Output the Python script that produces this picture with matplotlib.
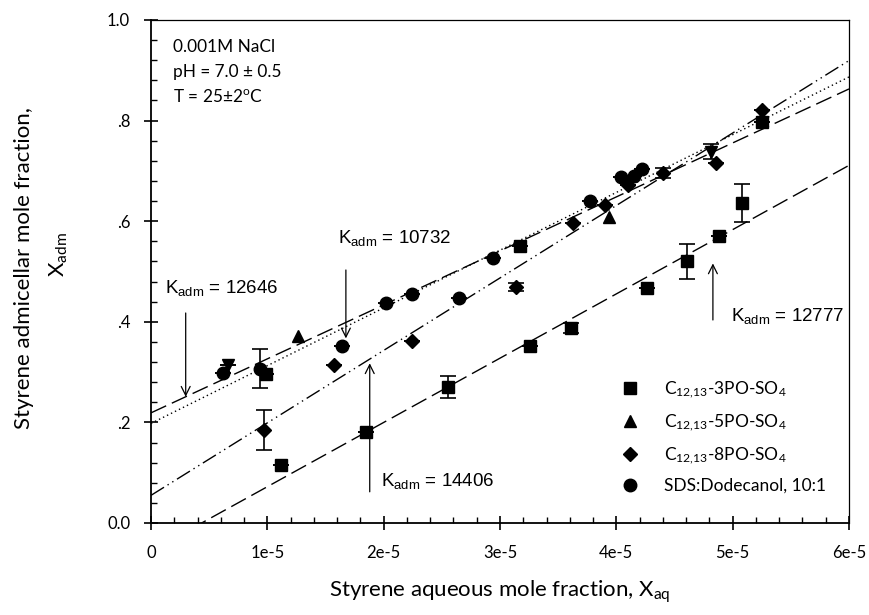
import numpy as np
import matplotlib
matplotlib.use("Agg")
import matplotlib.pyplot as plt

plt.rcParams['font.family'] = ['Lato', 'DejaVu Sans']
plt.rcParams['mathtext.default'] = 'regular'
plt.rcParams['font.size'] = 12

# data (x in units of 1e-5)
x_3po = [0.99, 1.12, 1.85, 2.55, 3.17, 3.26, 3.61, 4.26, 4.61, 4.88, 5.08, 5.25]
y_3po = [0.296, 0.115, 0.180, 0.270, 0.551, 0.351, 0.387, 0.468, 0.520, 0.571, 0.636, 0.798]
e_3po = [0, 0, 0, 0.022, 0, 0, 0.010, 0, 0.035, 0, 0.037, 0]

x_5po = [1.26, 3.94]
y_5po = [0.372, 0.608]

x_8po = [0.97, 1.57, 2.24, 3.14, 3.63, 3.90, 4.10, 4.40, 4.86, 5.25]
y_8po = [0.185, 0.314, 0.362, 0.470, 0.597, 0.632, 0.672, 0.695, 0.715, 0.822]
e_8po = [0.040, 0, 0, 0.008, 0, 0, 0, 0.010, 0, 0]

x_sds = [0.62, 0.94, 1.64, 2.02, 2.24, 2.65, 2.94, 3.77, 4.04, 4.15, 4.22]
y_sds = [0.299, 0.307, 0.351, 0.438, 0.455, 0.447, 0.527, 0.641, 0.687, 0.690, 0.703]
e_sds = [0, 0.038, 0, 0, 0, 0, 0, 0, 0, 0, 0]

x_other = [0.66, 4.81]
y_other = [0.314, 0.738]
e_other = [0, 0.015]

# fitted lines: slope (per mole fraction) and intercept
fit_slope = [10732, 11480, 14406, 12777]
fit_icept = [0.219, 0.198, 0.055, -0.0556]
fit_dash = [(12, 4.5), (1, 2.2), (11, 3, 1, 3, 1, 3), (12, 4.5)]

labels = [r'C$_{12{,}13}$-3PO-SO$_4$', r'C$_{12{,}13}$-5PO-SO$_4$',
          r'C$_{12{,}13}$-8PO-SO$_4$', 'SDS:Dodecanol, 10:1']

k_text = ['12646', '10732', '14406', '12777']
k_text_xy = [(0.12, 0.457), (1.61, 0.557), (1.98, 0.074), (4.985, 0.402)]
k_arrow_from = [(0.298, 0.4175), (1.675, 0.503), (1.88, 0.062), (4.83, 0.4036)]
k_arrow_to = [(0.298, 0.251), (1.675, 0.367), (1.88, 0.3175), (4.83, 0.516)]

sc = 1e-5

fig = plt.figure(figsize=(8.69, 6.15), dpi=100)
ax = fig.add_axes([0.1738, 0.1496, 0.8032, 0.8179])

xl = np.array([0, 6e-5])
for s, b, d in zip(fit_slope, fit_icept, fit_dash):
    ax.plot(xl, b + s * xl, color='black', lw=1.0, dashes=d, zorder=2)

ekw = dict(fmt='none', ecolor='black', elinewidth=1.2, capsize=5.5, capthick=1.2, zorder=3)
ax.errorbar(np.array(x_3po) * sc, y_3po, yerr=e_3po, **ekw)
ax.errorbar(np.array(x_8po) * sc, y_8po, yerr=e_8po, **ekw)
ax.errorbar(np.array(x_sds) * sc, y_sds, yerr=e_sds, **ekw)
ax.errorbar(np.array(x_other) * sc, y_other, yerr=e_other, **ekw)

h1, = ax.plot(np.array(x_3po) * sc, y_3po, 's', ms=8.5, color='black', ls='none', zorder=4)
h2, = ax.plot(np.array(x_5po) * sc, y_5po, '^', ms=9, color='black', ls='none', zorder=4)
h3, = ax.plot(np.array(x_8po) * sc, y_8po, 'D', ms=7.5, color='black', ls='none', zorder=4)
h4, = ax.plot(np.array(x_sds) * sc, y_sds, 'o', ms=9, color='black', ls='none', zorder=4)
ax.plot(np.array(x_other) * sc, y_other, 'v', ms=9, color='black', ls='none', zorder=4)

for t, (tx, ty), (fx, fy), (ax_, ay) in zip(k_text, k_text_xy, k_arrow_from, k_arrow_to):
    ax.text(tx * sc, ty, r'K$_{adm}$ = ' + t, fontsize=13.5, family='Liberation Sans',
            va='baseline', ha='left')
    ax.annotate('', xy=(ax_ * sc, ay), xytext=(fx * sc, fy),
                arrowprops=dict(arrowstyle='->', lw=0.9, color='black', mutation_scale=16,
                                shrinkA=0, shrinkB=0))

ax.text(0.19e-5, 0.946, '0.001M NaCl', va='center', fontsize=12.4)
ax.text(0.19e-5, 0.897, 'pH = 7.0 ± 0.5', va='center', fontsize=12.4)
ax.text(0.19e-5, 0.847, r'T = 25±2$^{o}$C', va='center', fontsize=12.4)

ax.legend([h1, h2, h3, h4], labels, loc='upper left', bbox_to_anchor=(0.674, 0.2855),
          frameon=False, borderpad=0, handlelength=1.0, handletextpad=1.47,
          labelspacing=0.7, borderaxespad=0, fontsize=12.5)

ax.set_xlim(0, 6e-5)
ax.set_ylim(0, 1.0)
ax.set_xticks(np.arange(0, 7) * 1e-5)
ax.set_xticklabels(['0', '1e-5', '2e-5', '3e-5', '4e-5', '5e-5', '6e-5'])
ax.set_xticks(np.arange(0, 61, 2) * 1e-6, minor=True)
ax.set_yticks([0, 0.2, 0.4, 0.6, 0.8, 1.0])
ax.set_yticklabels(['0.0', '.2', '.4', '.6', '.8', '1.0'])
ax.set_yticks(np.arange(0, 1.001, 0.04), minor=True)
ax.tick_params(which='major', direction='inout', length=10, width=1.2)
ax.tick_params(axis='x', which='major', pad=11)
ax.tick_params(axis='y', which='major', pad=10)
ax.tick_params(which='minor', direction='in', length=4.5, width=1.0)
ax.tick_params(top=False, right=False, which='both')
for sp in ['left', 'bottom']:
    ax.spines[sp].set_linewidth(1.3)
for sp in ['top', 'right']:
    ax.spines[sp].set_linewidth(0.9)

fig.text(500 / 869, 1 - 592 / 615, r'Styrene aqueous mole fraction, X$_{aq}$',
         ha='center', va='center', fontsize=16)
fig.text(24 / 869, 1 - 268 / 615, 'Styrene admicellar mole fraction,',
         rotation=90, ha='center', va='center', fontsize=16)
fig.text(59 / 869, 1 - 255 / 615, r'X$_{adm}$', rotation=90, ha='center', va='center',
         fontsize=16)

fig.savefig('out.png', dpi=100)
